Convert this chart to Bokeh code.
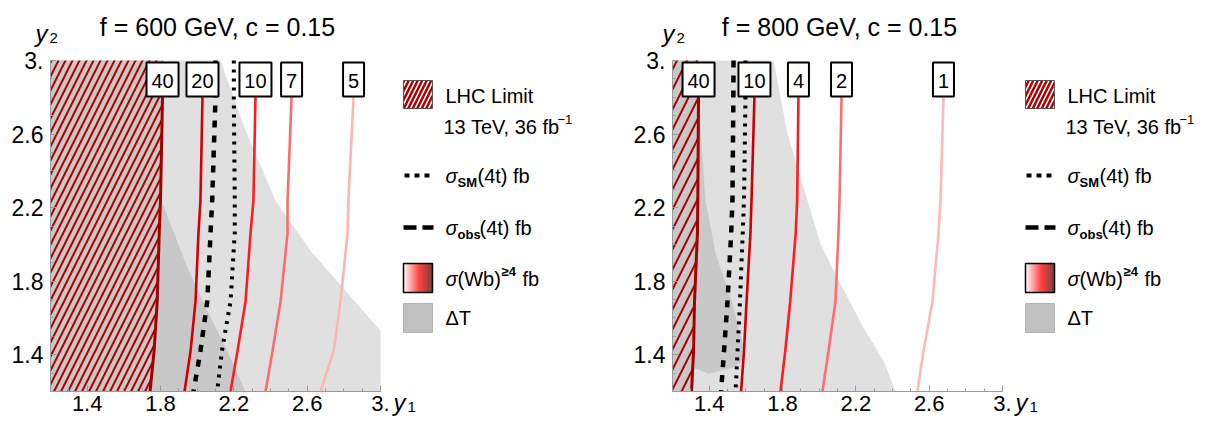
import numpy as np
from bokeh.plotting import figure
from bokeh.layouts import row
from bokeh.models import Range1d, FixedTicker
from bokeh.core.properties import value
from bokeh.embed import file_html
from bokeh.resources import INLINE

FONT = "Liberation Sans"

# ---------------------------------------------------------------- axis ticks
tick_values = [1.4, 1.8, 2.2, 2.6, 3.0]
tick_labels = ["1.4", "1.8", "2.2", "2.6", "3."]
minor_values = [round(1.2 + 0.1 * i, 1) for i in range(19)]

# y2 rows at which every curve is sampled (top row 3.0 only for the 4t lines)
y_rows = [2.80, 2.24, 2.06, 1.69, 1.42, 1.20]
y_rows_full = [3.0, 2.80, 2.24, 2.06, 1.69, 1.42, 1.20]

# ---------------------------------------------------------------- f = 600 GeV
levels_600 = [40, 20, 10, 7, 5]
wb_x_600 = [
    [1.811, 1.800, 1.793, 1.782, 1.765, 1.743],
    [2.029, 2.018, 2.007, 1.991, 1.964, 1.931],
    [2.318, 2.307, 2.291, 2.264, 2.220, 2.182],
    [2.515, 2.493, 2.493, 2.455, 2.411, 2.373],
    [2.853, 2.825, 2.820, 2.782, 2.744, 2.673],
]
colors_600 = ["#a30000", "#d60000", "#ff1c1c", "#ff6b6b", "#ffb4b4"]
sm_x_600 = [2.200, 2.200, 2.205, 2.205, 2.182, 2.135, 2.109]
obs_x_600 = [2.100, 2.100, 2.082, 2.073, 2.055, 2.018, 1.980]
lhc_x_600 = [1.811, 1.811, 1.800, 1.793, 1.782, 1.765, 1.743]
dt_light_x_600 = [1.2, 1.2, 2.127, 2.264, 2.427, 2.618, 2.809, 3.0, 3.0]
dt_light_y_600 = [1.2, 3.0, 3.0, 2.619, 2.238, 1.966, 1.748, 1.530, 1.2]
dt_dark_x_600 = [1.2, 1.2, 1.811, 1.800, 1.816, 1.947, 2.056, 2.165, 2.263]
dt_dark_y_600 = [1.2, 3.0, 3.0, 2.240, 2.211, 1.873, 1.639, 1.422, 1.2]

# ---------------------------------------------------------------- f = 800 GeV
levels_800 = [40, 10, 4, 2, 1]
wb_x_800 = [
    [1.342, 1.338, 1.336, 1.320, 1.315, 1.304],
    [1.647, 1.631, 1.625, 1.604, 1.590, 1.574],
    [1.887, 1.880, 1.872, 1.842, 1.815, 1.789],
    [2.122, 2.111, 2.105, 2.089, 2.051, 2.018],
    [2.678, 2.662, 2.651, 2.618, 2.569, 2.536],
]
colors_800 = ["#a30000", "#cc0000", "#ff1c1c", "#ff6e6e", "#ffb8b8"]
sm_x_800 = [1.598, 1.598, 1.590, 1.583, 1.568, 1.555, 1.544]
obs_x_800 = [1.533, 1.532, 1.527, 1.520, 1.500, 1.481, 1.465]
lhc_x_800 = [1.342, 1.342, 1.338, 1.336, 1.320, 1.315, 1.304]
dt_light_x_800 = [1.2, 1.2, 1.751, 1.827, 1.936, 2.007, 2.116, 2.242, 2.351, 2.416]
dt_light_y_800 = [1.2, 3.0, 3.0, 2.603, 2.238, 2.004, 1.786, 1.547, 1.367, 1.2]
dt_dark_x_800 = [1.2, 1.2, 1.342, 1.342, 1.380, 1.435, 1.527, 1.598, 1.571, 1.527, 1.396, 1.315, 1.304]
dt_dark_y_800 = [1.2, 3.0, 3.0, 2.782, 2.238, 1.950, 1.677, 1.405, 1.356, 1.329, 1.296, 1.329, 1.2]

# ---------------------------------------------------------------- layout
SX = 1.8 / 330.0      # data units per pixel (y1)
SY = 1.8 / 331.0      # data units per pixel (y2)
FIG_W, FIG_H = 611, 421
TOP, BOTTOM = 60, 30  # pixels above y2 = 3.0 and below y2 = 1.2

LIGHT_GRAY = "#e0e0e0"
DARK_GRAY = "#c8c8c8"
HATCH_RED = "#b00000"


def gradient_colors(n):
    stops = np.array([0.0, 0.55, 1.0])
    rgb = np.array([[255, 255, 255], [255, 0, 0], [80, 0, 0]], dtype=float)
    t = (np.arange(n) + 0.5) / n
    out = []
    for ti in t:
        c = [np.interp(ti, stops, rgb[:, k]) for k in range(3)]
        out.append("#%02x%02x%02x" % tuple(int(round(v)) for v in c))
    return out


def panel(title, lb, levels, wb_x, colors, sm_x, obs_x, lhc_x,
          lx, ly, dkx, dky, hatch_scale, y2_dx):
    # the frame fills the whole canvas; the axes sit at y1 = 1.2 and y2 = 1.2
    p = figure(width=FIG_W, height=FIG_H,
               x_range=Range1d(1.2 - lb * SX, 1.2 + (FIG_W - lb) * SX),
               y_range=Range1d(1.2 - BOTTOM * SY, 3.0 + TOP * SY),
               output_backend="svg", toolbar_location=None, title=None,
               min_border=0, outline_line_color=None,
               background_fill_color="white", border_fill_color="white")
    p.grid.visible = False

    def X(px):      # pixels from the y2 axis -> y1
        return 1.2 + px * SX

    def Y(py):      # pixels from canvas top -> y2
        return 3.0 - (py - TOP) * SY

    # axes
    overrides = {v: s for v, s in zip(tick_values, tick_labels)}
    for ax in (p.xaxis, p.yaxis):
        ax.fixed_location = 1.2
        ax.bounds = (1.2, 3.0)
        ax.ticker = FixedTicker(ticks=tick_values, minor_ticks=minor_values)
        ax.major_label_overrides = overrides
        ax.axis_line_color = "#9a9a9a"
        ax.major_tick_line_color = "#9a9a9a"
        ax.minor_tick_line_color = "#9a9a9a"
        ax.major_tick_in = 6
        ax.major_tick_out = 0
        ax.minor_tick_in = 3
        ax.minor_tick_out = 0
        ax.major_label_text_font = FONT
        ax.major_label_text_color = "black"
    p.xaxis.major_label_text_font_size = "22px"
    p.xaxis.major_label_standoff = 4
    p.yaxis.major_label_text_font_size = "23px"
    p.yaxis.major_label_standoff = 7

    # Delta T regions
    p.patch(lx, ly, fill_color=LIGHT_GRAY, line_color=None)
    p.patch(dkx, dky, fill_color=DARK_GRAY, line_color=None)

    # LHC exclusion (hatched)
    hx = [1.2, 1.2] + lhc_x
    hy = [1.2, 3.0] + y_rows_full
    p.patch(hx, hy, fill_alpha=0, line_color=None,
            hatch_pattern="right_diagonal_line", hatch_color=HATCH_RED,
            hatch_weight=2, hatch_scale=hatch_scale)

    # sigma(Wb) contours
    for xs, c, lev in zip(wb_x, colors, levels):
        p.line(xs, y_rows, line_color=c, line_width=3 if lev == levels[0] else 2.6)

    # four-top lines
    p.line(obs_x, y_rows_full, line_color="black", line_width=4.5, line_dash="7 8")
    p.line(sm_x, y_rows_full, line_color="black", line_width=4, line_dash="3 6")

    # contour level tags
    tag_x = [xs[0] for xs in wb_x]
    tag_w = [10 + 11 * len(str(v)) for v in levels]
    p.rect(tag_x, [Y(79)] * len(levels), width=tag_w, height=[34] * len(levels),
           width_units="screen", height_units="screen",
           fill_color="white", line_color="black", line_width=2)
    p.text(tag_x, [Y(80)] * len(levels), text=[str(v) for v in levels],
           text_align="center", text_baseline="middle",
           text_font=value(FONT), text_font_size="20px", text_color="black")

    def txt(px, py, s, size="20px", style="normal", baseline="middle", align="left"):
        p.text([X(px)], [Y(py)], text=[s], text_align=align,
               text_baseline=baseline, text_font=value(FONT),
               text_font_size=size, text_font_style=style, text_color="black")

    # title
    txt(167, 26, title, size="25px", baseline="alphabetic", align="center")

    # axis names
    txt(y2_dx, 32.5, "y", size="24px", style="italic", baseline="alphabetic")
    txt(y2_dx + 14, 37, "2", size="15px", baseline="alphabetic")
    txt(343, 402, "y", size="24px", style="italic", baseline="alphabetic")
    txt(357, 406, "1", size="15px", baseline="alphabetic")

    # ------------------------------------------------------------ legend
    sw_l, sw_r = X(353), X(382)
    tx = 395

    # LHC limit
    p.quad(left=[sw_l], right=[sw_r], top=[Y(80)], bottom=[Y(108)],
           fill_color="white", line_color="#555555", line_width=1,
           hatch_pattern="right_diagonal_line", hatch_color=HATCH_RED,
           hatch_weight=2.5, hatch_scale=9)
    txt(tx, 95, "LHC Limit")
    txt(tx - 2, 126, "13 TeV, 36 fb")
    txt(tx + 112, 119, "\u22121", size="13px")

    # sigma_SM(4t)
    p.line([X(354), X(383)], [Y(175)] * 2, line_color="black", line_width=4,
           line_dash="5 5")
    txt(tx, 175, "\u03c3", style="italic")
    txt(tx + 12, 182, "SM", size="13px", style="bold")
    txt(tx + 32, 175, "(4t) fb")

    # sigma_obs(4t)
    p.line([X(353), X(383)], [Y(227)] * 2, line_color="black", line_width=4.5,
           line_dash="13 6")
    txt(tx, 227, "\u03c3", style="italic")
    txt(tx + 12, 234, "obs", size="13px", style="bold")
    txt(tx + 34, 227, "(4t) fb")

    # sigma(Wb) colour scale swatch
    n = 29
    edges = np.linspace(353, 382, n + 1)
    p.quad(left=[X(e) for e in edges[:-1]], right=[X(e) for e in edges[1:]],
           top=[Y(263)] * n, bottom=[Y(292)] * n,
           fill_color=gradient_colors(n), line_color=None)
    p.quad(left=[sw_l], right=[sw_r], top=[Y(263)], bottom=[Y(292)],
           fill_alpha=0, line_color="black", line_width=1.5)
    txt(tx, 278, "\u03c3", style="italic")
    txt(tx + 12, 278, "(Wb)")
    txt(tx + 56, 271, "\u22654", size="13px", style="bold")
    txt(tx + 77, 278, "fb")

    # Delta T swatch
    p.quad(left=[sw_l], right=[sw_r], top=[Y(303)], bottom=[Y(332)],
           fill_color="#c0c0c0", line_color="#b4b4b4", line_width=1)
    txt(tx, 317, "\u0394T")

    return p


p1 = panel("f = 600 GeV, c = 0.15", 50, levels_600, wb_x_600, colors_600,
           sm_x_600, obs_x_600, lhc_x_600, dt_light_x_600, dt_light_y_600,
           dt_dark_x_600, dt_dark_y_600, 14, -15)
p2 = panel("f = 800 GeV, c = 0.15", 61, levels_800, wb_x_800, colors_800,
           sm_x_800, obs_x_800, lhc_x_800, dt_light_x_800, dt_light_y_800,
           dt_dark_x_800, dt_dark_y_800, 20, -10)

layout = row(p1, p2)
open("out.html", "w").write(file_html(layout, INLINE))
